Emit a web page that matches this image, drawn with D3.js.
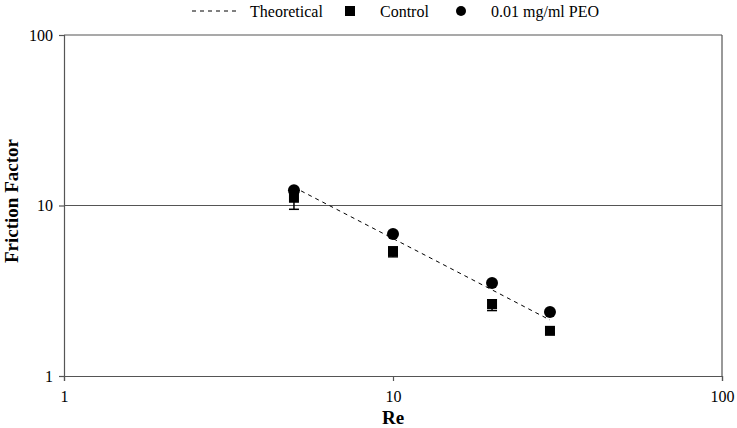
<!DOCTYPE html>
<html><head><meta charset="utf-8">
<script src="https://cdn.jsdelivr.net/npm/d3@7"></script>
<style>body{margin:0;background:#fff}svg{display:block}text{font-family:"Liberation Serif","Times New Roman",serif}</style>
</head><body><svg id="c" width="737" height="428"></svg>
<script>
const reValues = [5, 10, 20, 30];
const theoretical = [12.8, 6.4, 3.2, 2.13];
const control = [11.1, 5.4, 2.64, 1.84];
const controlLow = [9.5, 5.0, 2.42, 1.78];
const controlHigh = [12.5, 5.7, 2.8, 1.9];
const peo = [12.3, 6.8, 3.51, 2.37];
const xTicks = [1, 10, 100];
const yTicks = [1, 10, 100];

const svg = d3.select("#c");
const L = 64, R = 722, T = 35, B = 376;
const x = d3.scaleLog().domain([1, 100]).range([L, R]);
const y = d3.scaleLog().domain([1, 100]).range([B, T]);

// gridlines
svg.append("g").selectAll("line").data(yTicks.slice(1)).join("line")
  .attr("x1", L).attr("x2", R).attr("y1", d => y(d)).attr("y2", d => y(d))
  .attr("stroke", "#555").attr("stroke-width", 1.2);
svg.append("line").attr("x1", R).attr("x2", R).attr("y1", T).attr("y2", B)
  .attr("stroke", "#555").attr("stroke-width", 1.2);

const xAxis = svg.append("g").attr("transform", `translate(0,${B})`)
  .call(d3.axisBottom(x).tickValues(xTicks).tickFormat(d3.format("d")).tickSize(5).tickPadding(10));
const yAxis = svg.append("g").attr("transform", `translate(${L},0)`)
  .call(d3.axisLeft(y).tickValues(yTicks).tickFormat(d3.format("d")).tickSize(5).tickPadding(6));
[xAxis, yAxis].forEach(a => {
  a.attr("font-family", null);
  a.select(".domain").attr("stroke", "#555").attr("stroke-width", 1.2);
  a.selectAll(".tick line").attr("stroke", "#555").attr("stroke-width", 1.2);
  a.selectAll("text").attr("font-size", 16).attr("fill", "#000");
});

// theoretical line
const line = d3.line().x((d, i) => x(reValues[i])).y(d => y(d));
svg.append("path").datum(theoretical).attr("d", line)
  .attr("fill", "none").attr("stroke", "#000").attr("stroke-width", 1)
  .attr("stroke-dasharray", "4,4");

// error bars control
const eb = svg.append("g").attr("stroke", "#000").attr("stroke-width", 1.5);
reValues.forEach((r, i) => {
  const cx = x(r);
  eb.append("line").attr("x1", cx).attr("x2", cx).attr("y1", y(controlHigh[i])).attr("y2", y(controlLow[i]));
  eb.append("line").attr("x1", cx - 5).attr("x2", cx + 5).attr("y1", y(controlLow[i])).attr("y2", y(controlLow[i]));
  eb.append("line").attr("x1", cx - 5).attr("x2", cx + 5).attr("y1", y(controlHigh[i])).attr("y2", y(controlHigh[i]));
});

// control squares
svg.append("g").selectAll("rect").data(control).join("rect")
  .attr("x", (d, i) => x(reValues[i]) - 5).attr("y", d => y(d) - 5)
  .attr("width", 10).attr("height", 10).attr("fill", "#000");

// PEO circles
svg.append("g").selectAll("circle").data(peo).join("circle")
  .attr("cx", (d, i) => x(reValues[i])).attr("cy", d => y(d)).attr("r", 6).attr("fill", "#000");

// axis titles
svg.append("text").attr("x", (L + R) / 2).attr("y", 424).attr("text-anchor", "middle")
  .attr("font-size", 19).attr("font-weight", "bold").text("Re");
svg.append("text").attr("transform", `translate(18,201) rotate(-90)`)
  .attr("text-anchor", "middle").attr("font-size", 19).attr("font-weight", "bold").text("Friction Factor");

// legend
const lg = svg.append("g").attr("font-size", 16);
lg.append("line").attr("x1", 192).attr("x2", 240).attr("y1", 11).attr("y2", 11)
  .attr("stroke", "#000").attr("stroke-dasharray", "4,4");
lg.append("text").attr("x", 250).attr("y", 17).text("Theoretical");
lg.append("rect").attr("x", 345).attr("y", 6).attr("width", 10).attr("height", 10).attr("fill", "#000");
lg.append("text").attr("x", 380).attr("y", 17).text("Control");
lg.append("circle").attr("cx", 461).attr("cy", 11).attr("r", 5).attr("fill", "#000");
lg.append("text").attr("x", 491).attr("y", 17).text("0.01 mg/ml PEO");
</script></body></html>
